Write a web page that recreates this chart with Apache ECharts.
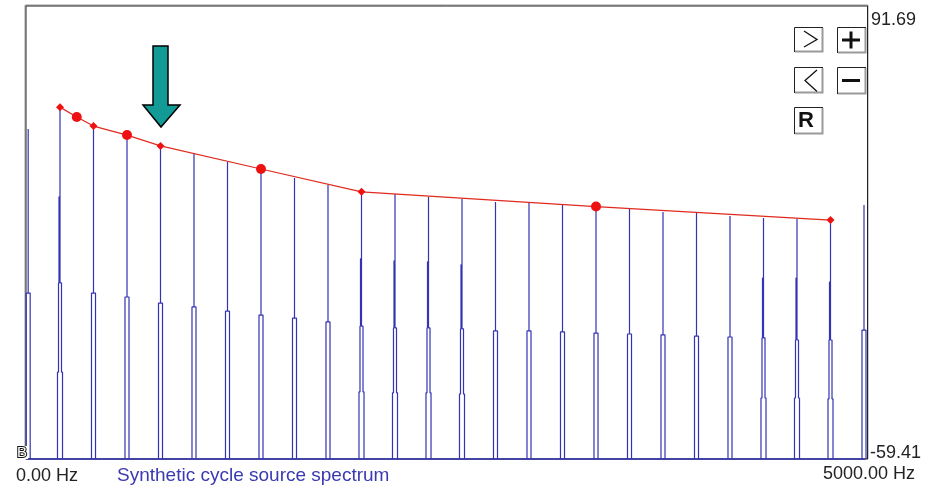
<!DOCTYPE html>
<html>
<head>
<meta charset="utf-8">
<script src="https://cdn.jsdelivr.net/npm/echarts@6/dist/echarts.min.js"></script>
<style>
  html, body { margin: 0; padding: 0; background: #fff; }
  #chart { width: 935px; height: 491px; }
</style>
</head>
<body>
<div id="chart"></div>
<script>
// ---- data ----
const yTickLabels = [91.69, -59.41];          // top / bottom of the dB scale
const xTickLabels = ['0.00 Hz', '5000.00 Hz'];
const titleText = 'Synthetic cycle source spectrum';

const harmonicHz = [10, 200, 400, 600, 800, 1000, 1200, 1400, 1600, 1800, 2000, 2200, 2400,
                    2600, 2800, 3000, 3200, 3400, 3600, 3800, 4000, 4200, 4400, 4600, 4800, 5000];
const peakDb   = [50.4, 57.7, 51.4, 48.4, 44.8, 42.1, 39.4, 37.1, 34.1, 31.8, 29.5, 28.8, 27.8,
                  27.1, 26.1, 25.8, 25.1, 24.5, 24.0, 22.8, 22.5, 21.5, 20.8, 20.5, 19.8, 25.1];
const splitDb  = [-4.2, -0.8, -4.2, -5.5, -7.5, -8.8, -10.2, -11.5, -12.5, -13.8, -15.2, -15.8, -15.8,
                  -16.1, -16.8, -16.8, -17.1, -17.5, -17.8, -18.1, -18.5, -18.8, -19.1, -19.8, -19.8, -16.5];
const innerDb  = [null, 27.8, null, null, null, null, null, null, null, null, 7.2, 6.5, 6.2,
                  5.2, null, null, null, null, null, null, null, null, 0.8, 0.8, -0.5, null];
const outerDb  = [null, -30.5, null, null, null, null, null, null, null, null, -37.1, -37.4, -37.4,
                  -37.8, null, null, null, null, null, null, null, null, -39.1, -39.1, -39.4, null];

const envelopeHz = [200, 300, 400, 600, 800, 1400, 2000, 3400, 4800];
const envelopeDb = [57.7, 54.4, 51.4, 48.4, 44.8, 37.1, 29.5, 24.6, 20.1];

// ---- build ----
const yMax = yTickLabels[0], yMin = yTickLabels[1];
const W1 = 12, W2 = 9, W3 = 15, T = 6; // half-widths of the drawn peaks (Hz)
function peakPoints(i) {
  const f = harmonicHz[i], p = peakDb[i], s = splitDb[i], a = innerDb[i], o = outerDb[i];
  if (o == null) {
    return [[f - W1, yMin], [f - W1, s], [f, s], [f, p], [f, s], [f + W1, s], [f + W1, yMin]];
  }
  return [[f - W3, yMin], [f - W3, o], [f - W2, o], [f - W2, s], [f - T, s], [f - T, a],
          [f, a], [f, p], [f, s], [f + W2, s], [f + W2, o], [f + W3, o], [f + W3, yMin]];
}
const floorLine = [[0, yMin], [harmonicHz[harmonicHz.length - 1] + W1, yMin]];
const envelope = envelopeHz.map((h, i) => [h, envelopeDb[i]]);
const bigMarkers = [1, 3, 5, 7];
const specColor = '#3333b3';

const labelFont = '18px "Liberation Sans", Arial, sans-serif';

function button(x, y, w, h, children) {
  return {
    type: 'group', x: x, y: y, z: 100,
    children: [
      { type: 'rect', shape: { x: 0, y: 0, width: w, height: h }, style: { fill: '#fff', stroke: null } },
      { type: 'polyline', shape: { points: [[0.5, h], [0.5, 0.5], [w, 0.5]] }, style: { stroke: '#222', lineWidth: 1, fill: null } },
      { type: 'polyline', shape: { points: [[1, h - 0.5], [w - 0.5, h - 0.5], [w - 0.5, 1]] }, style: { stroke: '#9a9a9a', lineWidth: 2, fill: null } }
    ].concat(children)
  };
}

const chart = echarts.init(document.getElementById('chart'), null, { renderer: 'canvas' });
chart.setOption({
  animation: false,
  backgroundColor: '#fff',
  grid: { left: 26.5, right: 71, top: 5, bottom: 32, containLabel: false },
  xAxis: { type: 'value', min: 0, max: 5000, show: false },
  yAxis: { type: 'value', min: yMin, max: yMax, show: false },
  series: [
    {
      type: 'line', data: floorLine, showSymbol: false, clip: false, z: 2,
      lineStyle: { color: specColor, width: 1.4 }
    },
    {
      type: 'custom', clip: false, z: 2,
      data: harmonicHz.map((f, i) => [f, peakDb[i]]),
      encode: { x: 0, y: 1 },
      renderItem: (params, api) => ({
        type: 'polyline',
        shape: { points: peakPoints(params.dataIndex).map(d => api.coord(d)) },
        style: { stroke: specColor, lineWidth: 1.2, fill: null, lineJoin: 'bevel' }
      })
    },
    {
      type: 'line', data: envelope, clip: false, z: 3,
      symbol: (v, params) => bigMarkers.includes(params.dataIndex) ? 'circle' : 'diamond',
      symbolSize: (v, params) => bigMarkers.includes(params.dataIndex) ? 10 : 8,
      itemStyle: { color: '#ee1111' },
      lineStyle: { color: '#e02a1e', width: 1.2 }
    }
  ],
  graphic: [
    // frame
    { type: 'rect', z: 1, silent: true, shape: { x: 25, y: 5, width: 843, height: 454 },
      style: { fill: null, stroke: '#9a9a9a', lineWidth: 1 } },
    { type: 'rect', z: 1, silent: true, shape: { x: 26, y: 6, width: 841.5, height: 453 },
      style: { fill: null, stroke: '#222', lineWidth: 1 } },
    // B marker bottom-left
    { type: 'rect', z: 49, shape: { x: 17, y: 446, width: 11, height: 13 }, style: { fill: '#fff' } },
    { type: 'text', z: 50, x: 17, y: 445,
      style: { text: 'B', font: '15px "Liberation Sans", Arial, sans-serif', fill: '#fff', stroke: '#111', lineWidth: 2 } },
    // labels
    { type: 'text', z: 50, x: 871, y: 20,
      style: { text: yTickLabels[0].toFixed(2), font: labelFont, fill: '#222', verticalAlign: 'middle' } },
    { type: 'text', z: 50, x: 870, y: 453,
      style: { text: yTickLabels[1].toFixed(2), font: labelFont, fill: '#222', verticalAlign: 'middle' } },
    { type: 'text', z: 50, x: 16, y: 476,
      style: { text: xTickLabels[0], font: labelFont, fill: '#222', verticalAlign: 'middle' } },
    { type: 'text', z: 50, x: 823, y: 474,
      style: { text: xTickLabels[1], font: labelFont, fill: '#222', verticalAlign: 'middle' } },
    { type: 'text', z: 50, x: 117, y: 476,
      style: { text: titleText, font: '19px "Liberation Sans", Arial, sans-serif', fill: '#3a3ab0', verticalAlign: 'middle' } },
    // arrow
    { type: 'polygon', z: 60,
      shape: { points: [[153, 46], [168, 46], [168, 105], [180, 105], [161, 127], [143, 105], [153, 105]] },
      style: { fill: '#129a96', stroke: '#000', lineWidth: 1.5 } },
    // buttons
    button(794, 27, 29, 25, [
      { type: 'polyline', shape: { points: [[10, 4], [23, 12.5], [10, 20]] }, style: { stroke: '#111', lineWidth: 1.3, fill: null } }
    ]),
    button(837, 27, 29, 26, [
      { type: 'line', shape: { x1: 5, y1: 13, x2: 23, y2: 13 }, style: { stroke: '#111', lineWidth: 3 } },
      { type: 'line', shape: { x1: 14, y1: 4.5, x2: 14, y2: 21.5 }, style: { stroke: '#111', lineWidth: 3 } }
    ]),
    button(794, 67, 29, 26, [
      { type: 'polyline', shape: { points: [[23, 3], [11, 13.5], [23, 24.5]] }, style: { stroke: '#111', lineWidth: 1.3, fill: null } }
    ]),
    button(837, 67, 29, 27, [
      { type: 'line', shape: { x1: 5, y1: 13.5, x2: 23, y2: 13.5 }, style: { stroke: '#111', lineWidth: 3 } }
    ]),
    button(794, 107, 29, 27, [
      { type: 'text', x: 4, y: 3, style: { text: 'R', font: 'bold 22px "Liberation Sans", Arial, sans-serif', fill: '#111' } }
    ])
  ]
});
</script>
</body>
</html>
